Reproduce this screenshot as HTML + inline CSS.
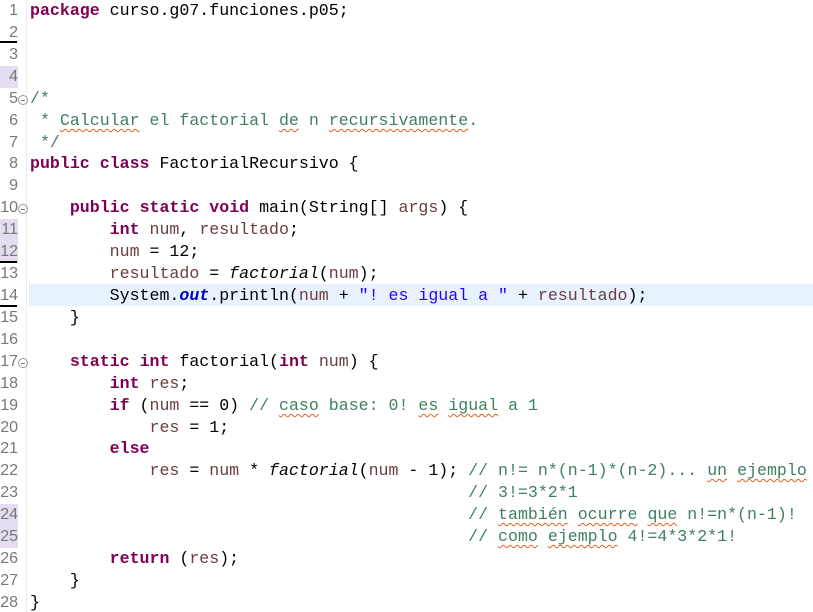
<!DOCTYPE html>
<html><head><meta charset="utf-8"><style>
html,body{margin:0;padding:0;background:#fff;width:813px;height:612px;overflow:hidden}
body{position:relative;font-family:"Liberation Mono","DejaVu Sans Mono",monospace;font-size:16.6px;color:#000}
.l{position:absolute;left:30px;height:22px;line-height:22px;white-space:pre}
.n{position:absolute;left:0;width:18px;text-align:right;height:22px;line-height:22px;color:#787878;font-size:16px;font-family:"Liberation Sans","DejaVu Sans",sans-serif}
.hp{background:#e6dcef}
.k{color:#7f0055;font-weight:bold}
.v{color:#6a3e3e}
.c{color:#3f7f5f}
.s{color:#2a00ff}
.f{color:#0000c0;font-weight:bold;font-style:italic}
.i{font-style:italic}
.w{text-decoration:underline wavy #e06020;text-decoration-thickness:1px;text-underline-offset:3px}
.fold{position:absolute;left:18px;width:8px;height:8px;border:1px solid #999;border-radius:50%;font-size:0}
.fold:after{content:"";position:absolute;left:2px;top:4px;width:4px;height:1px;background:#777}
.ul{position:absolute;height:2px;background:#000}
</style></head><body>
<div style="position:absolute;left:26px;top:0;width:1px;height:612px;background:#ececec"></div>
<div style="position:absolute;left:29px;top:284px;width:784px;height:22px;background:#e8f2fe"></div>

<div class="n" style="top:0">1</div>
<div class="n" style="top:22px">2</div>
<div class="n" style="top:44px">3</div>
<div class="n hp" style="top:66px">4</div>
<div class="n" style="top:88px">5</div>
<div class="n" style="top:110px">6</div>
<div class="n" style="top:132px">7</div>
<div class="n" style="top:153px">8</div>
<div class="n" style="top:175px">9</div>
<div class="n" style="top:197px">10</div>
<div class="n hp" style="top:219px">11</div>
<div class="n hp" style="top:241px">12</div>
<div class="n" style="top:263px">13</div>
<div class="n" style="top:285px">14</div>
<div class="n" style="top:307px">15</div>
<div class="n" style="top:329px">16</div>
<div class="n" style="top:351px">17</div>
<div class="n" style="top:373px">18</div>
<div class="n" style="top:395px">19</div>
<div class="n" style="top:417px">20</div>
<div class="n" style="top:438px">21</div>
<div class="n" style="top:460px">22</div>
<div class="n" style="top:482px">23</div>
<div class="n hp" style="top:504px">24</div>
<div class="n hp" style="top:526px">25</div>
<div class="n" style="top:548px">26</div>
<div class="n" style="top:570px">27</div>
<div class="n" style="top:592px">28</div>

<div class="ul" style="left:0;top:41px;width:17px"></div>
<div class="ul" style="left:0;top:261px;width:17px"></div>
<div class="ul" style="left:0;top:305px;width:17px"></div>

<div class="fold" style="top:95px"></div>
<div class="fold" style="top:204px"></div>
<div class="fold" style="top:358px"></div>

<div class="l" style="top:0"><span class="k">package</span> curso.g07.funciones.p05;</div>
<div class="l c" style="top:88px">/*</div>
<div class="l c" style="top:110px"> * <span class="w">Calcular</span> el factorial <span class="w">de</span> n <span class="w">recursivamente</span>.</div>
<div class="l c" style="top:132px"> */</div>
<div class="l" style="top:153px"><span class="k">public</span> <span class="k">class</span> FactorialRecursivo {</div>
<div class="l" style="top:197px">    <span class="k">public</span> <span class="k">static</span> <span class="k">void</span> main(String[] <span class="v">args</span>) {</div>
<div class="l" style="top:219px">        <span class="k">int</span> <span class="v">num</span>, <span class="v">resultado</span>;</div>
<div class="l" style="top:241px">        <span class="v">num</span> = 12;</div>
<div class="l" style="top:263px">        <span class="v">resultado</span> = <span class="i">factorial</span>(<span class="v">num</span>);</div>
<div class="l" style="top:285px">        System.<span class="f">out</span>.println(<span class="v">num</span> + <span class="s">"! es igual a "</span> + <span class="v">resultado</span>);</div>
<div class="l" style="top:307px">    }</div>
<div class="l" style="top:351px">    <span class="k">static</span> <span class="k">int</span> factorial(<span class="k">int</span> <span class="v">num</span>) {</div>
<div class="l" style="top:373px">        <span class="k">int</span> <span class="v">res</span>;</div>
<div class="l" style="top:395px">        <span class="k">if</span> (<span class="v">num</span> == 0) <span class="c">// <span class="w">caso</span> base: 0! <span class="w">es</span> <span class="w">igual</span> a 1</span></div>
<div class="l" style="top:417px">            <span class="v">res</span> = 1;</div>
<div class="l" style="top:438px">        <span class="k">else</span></div>
<div class="l" style="top:460px">            <span class="v">res</span> = <span class="v">num</span> * <span class="i">factorial</span>(<span class="v">num</span> - 1); <span class="c">// n!= n*(n-1)*(n-2)... <span class="w">un</span> <span class="w">ejemplo</span></span></div>
<div class="l c" style="top:482px">                                            // 3!=3*2*1</div>
<div class="l c" style="top:504px">                                            // <span class="w">también</span> <span class="w">ocurre</span> <span class="w">que</span> n!=n*(n-1)!</div>
<div class="l c" style="top:526px">                                            // <span class="w">como</span> <span class="w">ejemplo</span> 4!=4*3*2*1!</div>
<div class="l" style="top:548px">        <span class="k">return</span> (<span class="v">res</span>);</div>
<div class="l" style="top:570px">    }</div>
<div class="l" style="top:592px">}</div>
</body></html>
